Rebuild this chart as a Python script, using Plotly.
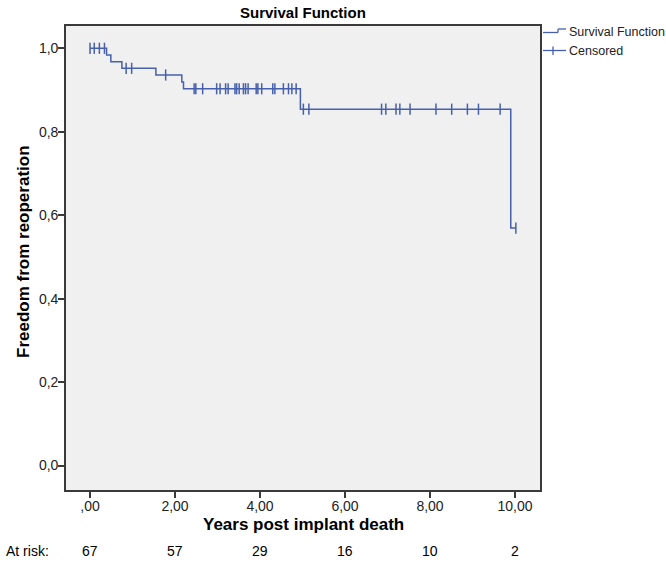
import plotly.graph_objects as go

# ---- data ----
event_times = [0.39, 0.49, 0.75, 1.55, 2.16, 2.20, 4.95, 9.90]
survival = [0.984, 0.968, 0.952, 0.936, 0.919, 0.903, 0.854, 0.569]
censor_times = [0.00, 0.10, 0.22, 0.34, 0.85, 0.98, 1.78,
                2.45, 2.49, 2.65, 2.98, 3.06, 3.19, 3.25, 3.41, 3.45, 3.51,
                3.61, 3.66, 3.72, 3.91, 3.95, 4.04, 4.30, 4.35, 4.55, 4.67,
                4.75, 4.85, 5.02, 5.15, 6.86, 6.96, 7.20, 7.29, 7.53, 8.14,
                8.51, 8.88, 9.14, 9.65, 10.02]
x_tickvals = [0, 2, 4, 6, 8, 10]
x_ticktext = [",00", "2,00", "4,00", "6,00", "8,00", "10,00"]
y_tickvals = [0.0, 0.2, 0.4, 0.6, 0.8, 1.0]
y_ticktext = ["0,0", "0,2", "0,4", "0,6", "0,8", "1,0"]
at_risk = [67, 57, 29, 16, 10, 2]

LINE = "#4660ad"
FRAME = "#3a3a3a"
FONT = "Liberation Sans, Arial, sans-serif"


def surv_at(t):
    s = 1.0
    for et, sv in zip(event_times, survival):
        if et <= t:
            s = sv
    return s


curve_x = [0.0] + event_times + [censor_times[-1]]
curve_y = [1.0] + survival + [survival[-1]]
censor_y = [surv_at(t) for t in censor_times]

fig = go.Figure()
fig.add_trace(go.Scatter(x=curve_x, y=curve_y, mode="lines",
                         line=dict(color=LINE, width=1.5, shape="hv"),
                         showlegend=False, hoverinfo="skip"))
fig.add_trace(go.Scatter(x=censor_times, y=censor_y, mode="markers",
                         marker=dict(symbol="line-ns", size=8,
                                     line=dict(color=LINE, width=1.5)),
                         showlegend=False))

W, H = 666, 566
PL, PR, PT, PB = 66, 540, 26, 490          # plot area in pixels
L, T = PL, PT
R, B = W - PR, H - PB
pw, ph = PR - PL, PB - PT


def px(x):
    return (x - PL) / pw


def py(y):
    return (PB - y) / ph


shapes = [
    # legend: survival step symbol
    dict(type="line", xref="paper", yref="paper", x0=px(543), x1=px(558), y0=py(32.5), y1=py(32.5),
         line=dict(color=LINE, width=1.3)),
    dict(type="line", xref="paper", yref="paper", x0=px(558), x1=px(558), y0=py(32.5), y1=py(29),
         line=dict(color=LINE, width=1.3)),
    dict(type="line", xref="paper", yref="paper", x0=px(558), x1=px(566), y0=py(29), y1=py(29),
         line=dict(color=LINE, width=1.3)),
    # legend: censored symbol
    dict(type="line", xref="paper", yref="paper", x0=px(543), x1=px(566), y0=py(50.5), y1=py(50.5),
         line=dict(color=LINE, width=1.3)),
    dict(type="line", xref="paper", yref="paper", x0=px(553), x1=px(553), y0=py(46.5), y1=py(55),
         line=dict(color=LINE, width=1.3)),
]

annotations = [
    dict(text="<b>Survival Function</b>", xref="paper", yref="paper", x=px(303), y=py(12),
         showarrow=False, font=dict(size=15, color="black", family=FONT), xanchor="center", yanchor="middle"),
    dict(text="<b>Years post implant death</b>", xref="paper", yref="paper", x=px(303), y=py(524),
         showarrow=False, font=dict(size=17, color="black", family=FONT), xanchor="center", yanchor="middle"),
    dict(text="<b>Freedom from reoperation</b>", xref="paper", yref="paper", x=px(24), y=py(252),
         showarrow=False, textangle=-90, font=dict(size=17, color="black", family=FONT),
         xanchor="center", yanchor="middle"),
    dict(text="Survival Function", xref="paper", yref="paper", x=px(567), y=py(32),
         showarrow=False, font=dict(size=12.5, color="#222", family=FONT), xanchor="left", yanchor="middle"),
    dict(text="Censored", xref="paper", yref="paper", x=px(567), y=py(50.5),
         showarrow=False, font=dict(size=12.5, color="#222", family=FONT), xanchor="left", yanchor="middle"),
    dict(text="At risk:", xref="paper", yref="paper", x=px(4), y=py(551),
         showarrow=False, font=dict(size=14, color="black", family=FONT), xanchor="left", yanchor="middle"),
]
for tv, n in zip(x_tickvals, at_risk):
    annotations.append(dict(text=str(n), xref="x", yref="paper", x=tv, y=py(551), showarrow=False,
                            font=dict(size=14, color="black", family=FONT), xanchor="center", yanchor="middle"))

fig.update_layout(
    width=W, height=H, autosize=False,
    margin=dict(l=L, r=R, t=T, b=B, pad=0),
    paper_bgcolor="white", plot_bgcolor="#f0f0f0",
    font=dict(family=FONT, size=14, color="black"),
    shapes=shapes, annotations=annotations,
    showlegend=False,
)
fig.update_xaxes(range=[-0.565, 10.588], tickvals=x_tickvals, ticktext=x_ticktext,
                 showgrid=False, zeroline=False, showline=True, mirror=True,
                 linecolor=FRAME, linewidth=1.6, ticks="outside", ticklen=6,
                 tickcolor=FRAME, tickwidth=1.5, tickfont=dict(size=14, color="#222"),
                 ticklabelstandoff=-4)
fig.update_yaxes(range=[-0.0587, 1.0534], tickvals=y_tickvals, ticktext=y_ticktext,
                 showgrid=False, zeroline=False, showline=True, mirror=True,
                 linecolor=FRAME, linewidth=1.6, ticks="outside", ticklen=6,
                 tickcolor=FRAME, tickwidth=1.5, tickfont=dict(size=14, color="#222"),
                 ticklabelstandoff=-3)

fig.write_html("out.html",
               config={"displayModeBar": False},
               post_script="document.body.style.margin='0';document.body.style.overflow='hidden';")
